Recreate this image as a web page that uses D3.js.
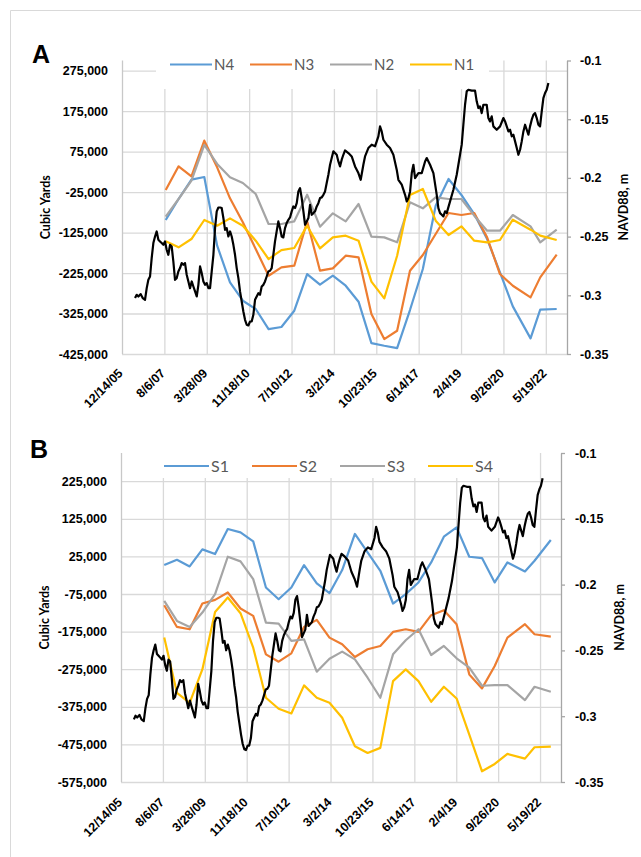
<!DOCTYPE html>
<html>
<head>
<meta charset="utf-8">
<script src="https://cdn.jsdelivr.net/npm/d3@7"></script>
<style>
  body { margin: 0; background: #fff; }
  svg { display: block; font-family: Lato, 'Open Sans', sans-serif; }
  .tick text { font-size: 12.5px; font-weight: bold; fill: #000; }
  .axis-title { font-size: 12.5px; font-weight: bold; fill: #000; }
  .legend-text { fill: #595959; }
  .panel-label { font-family: 'Liberation Sans', Arial, sans-serif; font-size: 25px; font-weight: bold; }
</style>
</head>
<body>
<svg width="641" height="857"></svg>
<script>
// survey dates shared by all transects
const surveyDates = ['2007-08-25','2008-02-23','2008-08-23','2009-02-21','2009-08-22','2010-02-20',
  '2010-08-21','2011-02-19','2011-08-20','2012-02-18','2012-08-18','2013-02-16','2013-08-17',
  '2014-02-15','2014-08-16','2015-02-14','2015-08-15','2016-02-13','2016-08-13','2017-02-11',
  '2017-08-12','2018-02-10','2018-08-11','2019-02-09','2019-08-10','2020-02-08','2020-08-08',
  '2021-02-06','2021-10-15','2022-03-01','2022-10-20'];

// panel A, cubic yards
const n4 = [-94000,-42100,5700,12200,-157400,-248000,-293400,-313900,-363400,-358400,-318100,-227500,
  -253800,-231600,-256300,-295800,-398000,-404600,-410300,-316400,-215100,-58600,7300,-32200,-79200,
  -141000,-223300,-307400,-386400,-315600,-313900];
const n3 = [-19900,38600,13900,102000,36100,-40500,-99800,-165700,-231600,-211000,-206900,-97300,
  -219200,-213500,-182200,-186300,-326300,-388100,-367500,-219200,-180500,-128600,-76700,-81700,-76700,
  -136900,-227500,-256300,-285100,-235700,-179700];
const n2 = [-85800,-42100,3200,91300,44400,11400,-2600,-29800,-103900,-103900,-97300,-31400,-110500,
  -77500,-97300,-54500,-135200,-136900,-149200,-50400,-65200,-38000,-42100,-42100,-83300,-120400,
  -120400,-81700,-109700,-149200,-117900];
const n1 = [-146700,-161600,-141000,-94000,-108000,-89900,-108000,-145100,-190400,-168200,-163200,
  -108000,-164000,-136900,-132700,-145100,-246400,-287600,-182200,-32200,-17400,-95700,-131100,-109700,
  -145100,-149200,-143400,-93200,-117900,-132700,-143400];

// panel B, cubic yards
const s1 = [1900,16100,-1700,43700,31200,97900,89000,65000,-57700,-88800,-57700,1900,-47000,-72800,
  -11400,84600,35700,-13200,-100300,-75400,-44300,9000,77400,102300,24100,20600,-44300,9000,-15000,
  13400,68600];
const s2 = [-104800,-162600,-168800,-100300,-90600,-71000,-113700,-133200,-235500,-255000,-232800,
  -162600,-143900,-191000,-208800,-242600,-222100,-213200,-175900,-168800,-175900,-131400,-118100,
  -155400,-288800,-326100,-266600,-191000,-155400,-182100,-188300];
const s3 = [-93200,-146600,-162600,-124300,-75400,24100,11700,-35400,-151000,-153700,-199900,-195500,
  -281700,-247000,-228300,-248800,-297700,-351000,-235500,-198100,-168800,-237200,-213200,-246100,
  -271000,-319000,-317200,-317200,-357200,-321700,-335000];
const s4 = [-191000,-337700,-364300,-275500,-122600,-84300,-126100,-217700,-351000,-380300,-392800,
  -318100,-351000,-364300,-404300,-479900,-497700,-484300,-306600,-275500,-306600,-361700,-321700,
  -352800,-448800,-546600,-527000,-500300,-512800,-482600,-480800];

// water level, NAVD88 m  [decimal year, value]
const waterLevel = [[2006.456,-0.3024],[2006.521,-0.2996],[2006.586,-0.3010],[2006.676,-0.2990],
  [2006.754,-0.3024],[2006.844,-0.3038],[2006.909,-0.2939],[2006.973,-0.2868],[2007.038,-0.2840],
  [2007.102,-0.2683],[2007.167,-0.2555],[2007.232,-0.2499],[2007.296,-0.2456],[2007.361,-0.2527],
  [2007.425,-0.2541],[2007.490,-0.2555],[2007.555,-0.2570],[2007.619,-0.2541],[2007.684,-0.2612],
  [2007.748,-0.2655],[2007.813,-0.2570],[2007.878,-0.2584],[2007.942,-0.2712],[2008.007,-0.2868],
  [2008.071,-0.2854],[2008.136,-0.2797],[2008.201,-0.2768],[2008.265,-0.2726],[2008.330,-0.2740],
  [2008.394,-0.2726],[2008.459,-0.2825],[2008.524,-0.2882],[2008.588,-0.2939],[2008.653,-0.2882],
  [2008.717,-0.2925],[2008.782,-0.2967],[2008.847,-0.3010],[2008.911,-0.2911],[2008.976,-0.2754],
  [2009.040,-0.2811],[2009.105,-0.2882],[2009.170,-0.2911],[2009.234,-0.2896],[2009.299,-0.2939],
  [2009.363,-0.2939],[2009.428,-0.2797],[2009.493,-0.2655],[2009.557,-0.2428],[2009.622,-0.2285],
  [2009.686,-0.2252],[2009.751,-0.2252],[2009.816,-0.2257],[2009.880,-0.2342],[2009.945,-0.2442],
  [2010.009,-0.2428],[2010.074,-0.2499],[2010.139,-0.2456],[2010.203,-0.2499],[2010.268,-0.2570],
  [2010.332,-0.2655],[2010.397,-0.2768],[2010.462,-0.2854],[2010.526,-0.2967],[2010.591,-0.3053],
  [2010.655,-0.3138],[2010.720,-0.3209],[2010.785,-0.3251],[2010.849,-0.3257],[2010.914,-0.3223],
  [2010.978,-0.3223],[2011.043,-0.3166],[2011.108,-0.3038],[2011.172,-0.3010],[2011.237,-0.2982],
  [2011.301,-0.2996],[2011.366,-0.2925],[2011.431,-0.2911],[2011.495,-0.2882],[2011.560,-0.2840],
  [2011.624,-0.2797],[2011.689,-0.2791],[2011.754,-0.2768],[2011.818,-0.2655],[2011.883,-0.2541],
  [2011.947,-0.2456],[2012.012,-0.2371],[2012.077,-0.2428],[2012.141,-0.2499],[2012.206,-0.2507],
  [2012.270,-0.2428],[2012.335,-0.2385],[2012.400,-0.2357],[2012.464,-0.2337],[2012.529,-0.2285],
  [2012.593,-0.2243],[2012.658,-0.2257],[2012.723,-0.2215],[2012.787,-0.2115],[2012.852,-0.2087],
  [2012.916,-0.2172],[2012.981,-0.2285],[2013.046,-0.2399],[2013.110,-0.2371],[2013.175,-0.2342],
  [2013.239,-0.2229],[2013.304,-0.2314],[2013.369,-0.2300],[2013.433,-0.2285],[2013.498,-0.2243],
  [2013.562,-0.2215],[2013.627,-0.2172],[2013.692,-0.2166],[2013.756,-0.2144],[2013.821,-0.2115],
  [2013.885,-0.2044],[2013.950,-0.1973],[2014.015,-0.1888],[2014.079,-0.1831],[2014.144,-0.1774],
  [2014.208,-0.1788],[2014.273,-0.1803],[2014.338,-0.1860],[2014.402,-0.1902],[2014.467,-0.1845],
  [2014.531,-0.1803],[2014.596,-0.1766],[2014.726,-0.1788],[2014.855,-0.1817],[2014.984,-0.1902],
  [2015.114,-0.1959],[2015.204,-0.2016],[2015.307,-0.1888],[2015.372,-0.1817],[2015.501,-0.1746],
  [2015.630,-0.1717],[2015.760,-0.1731],[2015.889,-0.1646],[2015.953,-0.1561],[2016.018,-0.1604],
  [2016.083,-0.1675],[2016.212,-0.1717],[2016.341,-0.1746],[2016.470,-0.1803],[2016.599,-0.1930],
  [2016.664,-0.2016],[2016.793,-0.2058],[2016.922,-0.2144],[2016.987,-0.2200],[2017.052,-0.2172],
  [2017.116,-0.2115],[2017.181,-0.1959],[2017.245,-0.1888],[2017.310,-0.2002],[2017.439,-0.1959],
  [2017.568,-0.1959],[2017.698,-0.1860],[2017.762,-0.1831],[2017.891,-0.1888],[2018.021,-0.1959],
  [2018.150,-0.2144],[2018.214,-0.2257],[2018.279,-0.2300],[2018.344,-0.2314],[2018.408,-0.2328],
  [2018.473,-0.2285],[2018.537,-0.2300],[2018.667,-0.2200],[2018.796,-0.2101],[2018.925,-0.1973],
  [2019.054,-0.1803],[2019.119,-0.1717],[2019.183,-0.1547],[2019.248,-0.1377],[2019.313,-0.1263],
  [2019.377,-0.1249],[2019.506,-0.1257],[2019.636,-0.1257],[2019.700,-0.1348],[2019.765,-0.1405],
  [2019.829,-0.1391],[2019.894,-0.1448],[2019.959,-0.1377],[2020.088,-0.1377],[2020.152,-0.1490],
  [2020.217,-0.1519],[2020.282,-0.1476],[2020.346,-0.1561],[2020.475,-0.1590],[2020.605,-0.1561],
  [2020.734,-0.1490],[2020.798,-0.1519],[2020.863,-0.1561],[2020.928,-0.1604],[2020.992,-0.1590],
  [2021.057,-0.1646],[2021.121,-0.1632],[2021.186,-0.1689],[2021.251,-0.1746],[2021.315,-0.1803],
  [2021.380,-0.1760],[2021.444,-0.1689],[2021.509,-0.1604],[2021.574,-0.1547],[2021.638,-0.1590],
  [2021.703,-0.1632],[2021.767,-0.1561],[2021.832,-0.1504],[2021.897,-0.1462],[2021.961,-0.1448],
  [2022.026,-0.1490],[2022.090,-0.1547],[2022.155,-0.1561],[2022.220,-0.1433],[2022.284,-0.1320],
  [2022.349,-0.1277],[2022.413,-0.1249],[2022.478,-0.1192]];

const dateTicks = ['12/14/05','8/6/07','3/28/09','11/18/10','7/10/12','3/2/14','10/23/15',
  '6/14/17','2/4/19','9/26/20','5/19/22'];
const yardTicksA = [275000,175000,75000,-25000,-125000,-225000,-325000,-425000];
const yardTicksB = [225000,125000,25000,-75000,-175000,-275000,-375000,-475000,-575000];
const navdTicks = [-0.1,-0.15,-0.2,-0.25,-0.3,-0.35];

const colors = {blue: '#5B9BD5', orange: '#ED7D31', gray: '#A5A5A5', yellow: '#FFC000'};
const gridColor = '#D9D9D9';

const locale = d3.formatLocale({decimal: '.', thousands: ',', grouping: [3], currency: ['$', ''], minus: '-'});
const fmtYards = locale.format(',');
const fmtNavd = locale.format('');
const parseTick = d3.timeParse('%m/%d/%y');
const parseDate = d3.timeParse('%Y-%m-%d');

function fromYear(v) {
  const y0 = Math.floor(v);
  const a = new Date(y0, 0, 1), b = new Date(y0 + 1, 0, 1);
  return new Date(+a + (v - y0) * (b - a));
}

const tickDates = dateTicks.map(parseTick);
const dates = surveyDates.map(parseDate);
const wl = waterLevel.map(d => ({date: fromYear(d[0]), value: d[1]}));

const svg = d3.select('svg');

// outer frame (left and top edges visible)
svg.append('path')
  .attr('d', 'M10.5,857V10.5H641')
  .attr('fill', 'none')
  .attr('stroke', gridColor);

function drawPanel(p) {
  const g = svg.append('g');
  const x = d3.scaleTime()
    .domain([tickDates[0], new Date(2023, 2, 15)])
    .range([p.left, p.right]);
  const y = d3.scaleLinear().domain(p.yDomain).range([p.bottom, p.top]);
  const y2 = d3.scaleLinear().domain([-0.35, -0.1]).range([p.bottom, p.top]);

  // gridlines
  g.append('g')
    .attr('transform', `translate(${p.left},0)`)
    .call(d3.axisLeft(y).tickValues(p.yTicks).tickSize(-(p.right - p.left)).tickFormat(''))
    .call(a => a.select('.domain').remove())
    .selectAll('line').attr('stroke', gridColor).attr('stroke-width', 1.3);

  g.append('g')
    .attr('transform', `translate(0,${p.bottom})`)
    .call(d3.axisBottom(x).tickValues(tickDates.slice(1)).tickSize(-(p.bottom - p.top)).tickFormat(''))
    .call(a => a.select('.domain').remove())
    .selectAll('line').attr('stroke', gridColor).attr('stroke-width', 1.3);

  // legend background
  const lb = p.legend.box;
  g.append('rect')
    .attr('x', lb[0]).attr('y', lb[1])
    .attr('width', lb[2] - lb[0]).attr('height', lb[3] - lb[1])
    .attr('fill', '#fff');

  // transect series
  const line = d3.line()
    .x((d, i) => x(dates[i]))
    .y(d => y(d));

  p.series.forEach(s => {
    g.append('path')
      .attr('d', line(s.values))
      .attr('fill', 'none')
      .attr('stroke', s.color)
      .attr('stroke-width', 2.2)
      .attr('stroke-linejoin', 'round');
  });

  // water level on secondary axis
  const wlLine = d3.line()
    .x(d => x(d.date))
    .y(d => y2(d.value));

  g.append('path')
    .attr('d', wlLine(wl))
    .attr('fill', 'none')
    .attr('stroke', '#000')
    .attr('stroke-width', 2.2)
    .attr('stroke-linejoin', 'round');

  // left axis
  g.append('line')
    .attr('x1', p.left + 0.5).attr('x2', p.left + 0.5)
    .attr('y1', p.top).attr('y2', p.bottom)
    .attr('stroke', '#C8C8C8').attr('stroke-width', 1.3);

  g.append('g')
    .attr('transform', `translate(${p.left},0)`)
    .call(d3.axisLeft(y).tickValues(p.yTicks).tickSize(0).tickPadding(14).tickFormat(fmtYards))
    .call(a => a.select('.domain').remove());

  // right axis
  const yAxisR = g.append('g')
    .attr('transform', `translate(${p.right},0)`)
    .call(d3.axisRight(y2).tickValues(navdTicks).tickSizeInner(4).tickSizeOuter(0)
      .tickPadding(p.rightPad).tickFormat(fmtNavd));
  yAxisR.select('.domain').attr('stroke', '#A6A6A6').attr('stroke-width', 1.3);
  yAxisR.selectAll('.tick line').attr('stroke', '#A6A6A6').attr('stroke-width', 1.3);

  // date axis
  const xAxisG = g.append('g')
    .attr('transform', `translate(0,${p.bottom})`)
    .call(d3.axisBottom(x).tickValues(tickDates).tickSize(0).tickFormat((d, i) => dateTicks[i]));
  xAxisG.select('.domain').remove();
  xAxisG.selectAll('text')
    .attr('x', 0).attr('y', 0).attr('dy', 0)
    .attr('transform', `translate(${p.xLabelOffset[0]},${p.xLabelOffset[1]}) rotate(-45)`)
    .style('text-anchor', 'end');

  // axis titles
  g.append('text')
    .attr('class', 'axis-title')
    .attr('transform', `translate(${p.leftTitleX},${(p.top + p.bottom) / 2}) rotate(-90)`)
    .style('text-anchor', 'middle')
    .text('Cubic Yards');

  g.append('text')
    .attr('class', 'axis-title')
    .attr('transform', `translate(${p.rightTitleX},${(p.top + p.bottom) / 2}) rotate(-90)`)
    .style('text-anchor', 'middle')
    .text('NAVD88, m');

  // legend
  const lg = p.legend;
  p.series.forEach((s, i) => {
    const lx = lg.x0 + i * lg.step;
    g.append('line')
      .attr('x1', lx).attr('x2', lx + lg.len)
      .attr('y1', lg.y).attr('y2', lg.y)
      .attr('stroke', s.color).attr('stroke-width', 2.2);
    g.append('text')
      .attr('class', 'legend-text')
      .attr('x', lx + lg.len + 2)
      .attr('y', lg.y)
      .attr('dy', '0.36em')
      .style('font-size', lg.fontSize + 'px')
      .text(s.name);
  });

  // panel letter
  g.append('text')
    .attr('class', 'panel-label')
    .attr('x', p.label[1]).attr('y', p.label[2])
    .text(p.label[0]);
}

drawPanel({
  left: 122, right: 567, top: 60.5, bottom: 354,
  yDomain: [-425000, 300000], yTicks: yardTicksA,
  series: [
    {name: 'N4', values: n4, color: colors.blue},
    {name: 'N3', values: n3, color: colors.orange},
    {name: 'N2', values: n2, color: colors.gray},
    {name: 'N1', values: n1, color: colors.yellow}
  ],
  legend: {x0: 170, step: 80, len: 42, y: 64.5, fontSize: 15, box: [156, 50, 489, 89]},
  rightPad: 9,
  xLabelOffset: [1, 20],
  leftTitleX: 50, rightTitleX: 628,
  label: ['A', 32, 63]
});

drawPanel({
  left: 121, right: 561, top: 453, bottom: 782,
  yDomain: [-575000, 300000], yTicks: yardTicksB,
  series: [
    {name: 'S1', values: s1, color: colors.blue},
    {name: 'S2', values: s2, color: colors.orange},
    {name: 'S3', values: s3, color: colors.gray},
    {name: 'S4', values: s4, color: colors.yellow}
  ],
  legend: {x0: 164, step: 88, len: 45, y: 466, fontSize: 16, box: [150, 445, 513, 478]},
  rightPad: 10,
  xLabelOffset: [1.5, 21],
  leftTitleX: 49, rightTitleX: 624,
  label: ['B', 30, 458]
});
</script>
</body>
</html>
